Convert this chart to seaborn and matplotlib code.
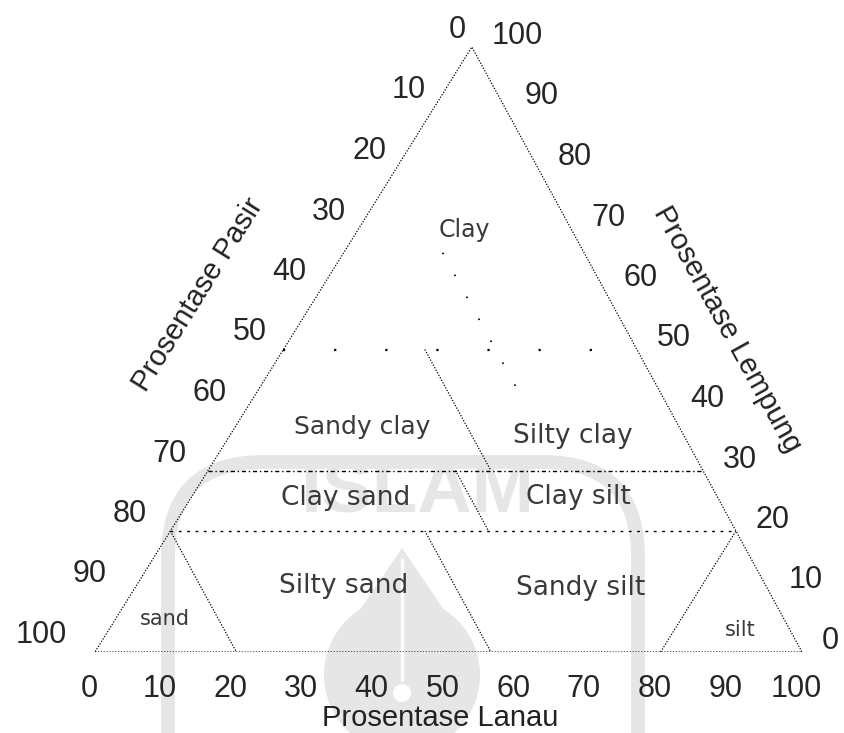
import numpy as np
import pandas as pd
import matplotlib
matplotlib.use("Agg")
import matplotlib.pyplot as plt
from matplotlib.patches import FancyBboxPatch, Circle, Polygon
import seaborn as sns

sns.set_theme(style="white")
plt.rcParams["font.family"] = ["Liberation Sans", "DejaVu Sans"]

# ternary data: every point given as (silt %, clay %), sand = 100 - silt - clay
ticks = [0, 10, 20, 30, 40, 50, 60, 70, 80, 90, 100]
tick_labels = [str(t) for t in ticks]

outline_silt = [0, 100, 0, 0]
outline_clay = [0, 0, 100, 0]

# horizontal class limits (clay %)
clay_limits = [50, 30, 20]
# dividing segments: (silt start, clay start, silt end, clay end)
dividers = {
    "sandy_silty_clay": (20, 50, 40, 30),
    "clay_sand_silt": (35, 30, 45, 20),
    "silty_sand_sandy_silt": (36, 20, 56, 0),
    "sand_corner": (0, 20, 20, 0),
    "silt_corner": (80, 0, 80, 20),
}
faint_divider = (14, 66, 38, 42)

classes = ["Clay", "Sandy clay", "Silty clay", "Clay sand", "Clay silt",
           "Silty sand", "Sandy silt", "sand", "silt"]
class_silt = [15.0, 18.0, 48.5, 21.9, 54.7, 29.3, 63.0, 7.0, 89.3]
class_clay = [69.8, 37.2, 35.7, 25.5, 25.6, 10.9, 10.6, 5.5, 3.6]
class_size = [17, 18, 19, 19, 19, 19, 19, 15, 15]

APEX = 0.533  # horizontal position of the clay apex along the base


def tern(silt, clay):
    silt = np.asarray(silt, dtype=float)
    clay = np.asarray(clay, dtype=float)
    return silt + APEX * clay, clay


fig = plt.figure(figsize=(8.45, 7.33), dpi=100)

# faint watermark of the scanned page, drawn in pixel space behind the chart
bg = fig.add_axes([0, 0, 1, 1], zorder=-1)
bg.set_xlim(0, 845)
bg.set_ylim(733, 0)
bg.axis("off")
wm = "#e6e6e6"
bg.add_patch(FancyBboxPatch((168, 462), 470, 560,
                            boxstyle="round,pad=0,rounding_size=95",
                            fill=False, ec=wm, lw=10))
bg.add_patch(Circle((402, 675), 78, fc=wm, ec="none"))
bg.add_patch(Polygon([(402, 548), (326, 660), (478, 660)], closed=True, fc=wm, ec="none"))
bg.plot([402, 402], [560, 680], color="white", lw=2.5)
bg.add_patch(Circle((402, 693), 9, fc="white", ec="none"))
bg.text(418, 492, "ISLAM", ha="center", va="center", fontsize=54,
        fontweight="bold", color=wm)

ax = fig.add_axes([95 / 845, (733 - 652) / 733, 707 / 845, 605 / 733])
ax.set_xlim(0, 100)
ax.set_ylim(0, 100)
ax.axis("off")

dot = (0, (1, 1.3))

# triangle outline
ox, oy = tern(outline_silt, outline_clay)
sns.lineplot(x=ox, y=oy, sort=False, estimator=None, ax=ax, color="black",
             lw=0.9, linestyle=dot)

# clay limits
styles = {50: ((0, (1, 22)), 1.6), 30: ((0, (3, 2, 1, 2)), 1.0), 20: ((0, (2, 4)), 1.0)}
for c in clay_limits:
    lx, ly = tern([0, 100 - c], [c, c])
    ls, lw = styles[c]
    ax.plot(lx, ly, color="black", lw=lw, linestyle=ls)

for key, (s0, c0, s1, c1) in dividers.items():
    dx, dy = tern([s0, s1], [c0, c1])
    ax.plot(dx, dy, color="black", lw=0.9, linestyle=dot)

fx, fy = tern(faint_divider[::2], faint_divider[1::2])
ax.plot(fx, fy, color="black", lw=1.2, linestyle=(0, (1, 14)))

# class names
df = pd.DataFrame({"name": classes, "silt": class_silt, "clay": class_clay,
                   "size": class_size})
for _, r in df.iterrows():
    tx, ty = tern(r["silt"], r["clay"])
    ax.text(tx, ty, r["name"], ha="center", va="center", fontsize=r["size"],
            family=["DejaVu Sans"], color="#3a3a3a")

# tick labels
for t, lab in zip(ticks, tick_labels):
    # bottom axis: silt
    bx, by = tern(t, 0)
    ax.annotate(lab, (bx, by), xytext=(-6, -37), textcoords="offset pixels",
                ha="center", va="center", fontsize=22, annotation_clip=False)
    # right axis: clay
    rx, ry = tern(100 - t, t)
    ax.annotate(lab, (rx, ry), xytext=(20, 11), textcoords="offset pixels",
                ha="left", va="center", fontsize=22, annotation_clip=False)
    # left axis: sand
    lx, ly = tern(0, 100 - t)
    ax.annotate(lab, (lx, ly), xytext=(-6 - 0.22 * t, 17), textcoords="offset pixels",
                ha="right", va="center", fontsize=22, annotation_clip=False)

# axis titles
px, py = tern(0, 50)
ax.annotate("Prosentase Pasir", (px, py), xytext=(-85, 55), textcoords="offset pixels",
            ha="center", va="center", rotation=58, fontsize=21, color="#222222",
            annotation_clip=False)
qx, qy = tern(50, 50)
ax.annotate("Prosentase Lempung", (qx, qy), xytext=(90, 20), textcoords="offset pixels",
            ha="center", va="center", rotation=-61, fontsize=21, color="#222222",
            annotation_clip=False)
wx, wy = tern(50, 0)
ax.annotate("Prosentase Lanau", (wx, wy), xytext=(-8, -66), textcoords="offset pixels",
            ha="center", va="center", fontsize=21, color="#222222",
            annotation_clip=False)

fig.savefig("out.png", dpi=100)
